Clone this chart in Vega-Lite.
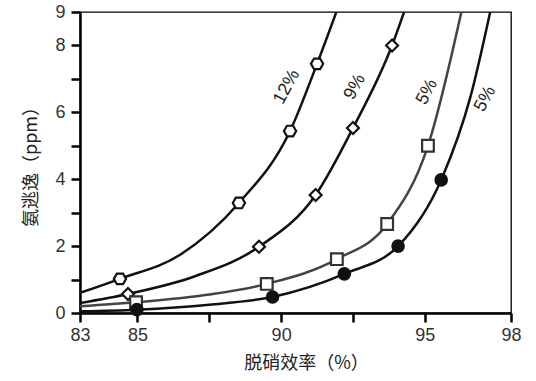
{
  "$schema": "https://vega.github.io/schema/vega-lite/v6.json",
  "width": 431,
  "height": 301,
  "autosize": "none",
  "padding": {"left": 80, "top": 12, "right": 25, "bottom": 68},
  "background": "white",
  "config": {
    "view": {"stroke": "black", "strokeWidth": 1.3},
    "font": "Liberation Sans"
  },
  "datasets": {
    "curves": [
      {"s": "a", "x": 83, "y": 0.6},
      {"s": "a", "x": 84.39, "y": 1.02},
      {"s": "a", "x": 86.5, "y": 1.75},
      {"s": "a", "x": 88.53, "y": 3.29},
      {"s": "a", "x": 90.31, "y": 5.44},
      {"s": "a", "x": 91.25, "y": 7.45},
      {"s": "a", "x": 92.05, "y": 9.3},
      {"s": "b", "x": 83, "y": 0.3},
      {"s": "b", "x": 84.67, "y": 0.57},
      {"s": "b", "x": 87.0, "y": 1.1},
      {"s": "b", "x": 89.23, "y": 1.98},
      {"s": "b", "x": 91.2, "y": 3.53},
      {"s": "b", "x": 92.5, "y": 5.53},
      {"s": "b", "x": 93.86, "y": 8.0},
      {"s": "b", "x": 94.4, "y": 9.3},
      {"s": "c", "x": 83, "y": 0.2},
      {"s": "c", "x": 84.95, "y": 0.32},
      {"s": "c", "x": 87.5, "y": 0.55},
      {"s": "c", "x": 89.5, "y": 0.87},
      {"s": "c", "x": 91.94, "y": 1.61},
      {"s": "c", "x": 93.69, "y": 2.66},
      {"s": "c", "x": 95.11, "y": 5.0},
      {"s": "c", "x": 96.35, "y": 9.3},
      {"s": "d", "x": 83, "y": 0.05},
      {"s": "d", "x": 84.98, "y": 0.1},
      {"s": "d", "x": 87.5, "y": 0.25},
      {"s": "d", "x": 89.7, "y": 0.48},
      {"s": "d", "x": 92.2, "y": 1.17},
      {"s": "d", "x": 94.07, "y": 2.0},
      {"s": "d", "x": 95.57, "y": 3.98},
      {"s": "d", "x": 96.6, "y": 6.5},
      {"s": "d", "x": 97.35, "y": 9.3}
    ],
    "markers": [
      {"s": "a", "x": 84.39, "y": 1.02},
      {"s": "a", "x": 88.53, "y": 3.29},
      {"s": "a", "x": 90.31, "y": 5.44},
      {"s": "a", "x": 91.25, "y": 7.45},
      {"s": "b", "x": 84.67, "y": 0.57},
      {"s": "b", "x": 89.23, "y": 1.98},
      {"s": "b", "x": 91.2, "y": 3.53},
      {"s": "b", "x": 92.5, "y": 5.53},
      {"s": "b", "x": 93.86, "y": 8.0},
      {"s": "c", "x": 84.95, "y": 0.32},
      {"s": "c", "x": 89.5, "y": 0.87},
      {"s": "c", "x": 91.94, "y": 1.61},
      {"s": "c", "x": 93.69, "y": 2.66},
      {"s": "c", "x": 95.11, "y": 5.0},
      {"s": "d", "x": 84.98, "y": 0.1},
      {"s": "d", "x": 89.7, "y": 0.48},
      {"s": "d", "x": 92.2, "y": 1.17},
      {"s": "d", "x": 94.07, "y": 2.0},
      {"s": "d", "x": 95.57, "y": 3.98}
    ],
    "labels": [
      {"x": 90.2, "y": 6.76, "t": "12%"},
      {"x": 92.57, "y": 6.76, "t": "9%"},
      {"x": 95.08, "y": 6.61, "t": "5%"},
      {"x": 97.1, "y": 6.4, "t": "5%"}
    ]
  },
  "encoding": {
    "x": {
      "field": "x", "type": "quantitative",
      "scale": {"domain": [83, 98], "nice": false, "zero": false},
      "axis": {
        "title": "脱硝效率（%）",
        "titleFont": "Noto Sans CJK SC", "titleFontSize": 18, "titleFontWeight": "normal",
        "titleColor": "#222", "titlePadding": 10, "titleX": 226,
        "values": [83, 85, 87.5, 90, 92.5, 95, 98],
        "labelExpr": "(datum.value == 87.5 || datum.value == 92.5) ? '' : datum.label",
        "labelFontSize": 18, "labelColor": "#333", "labelPadding": 4, "labelFlush": false,
        "grid": false, "domainColor": "black", "domainWidth": 2.5,
        "tickColor": "black", "tickWidth": 2.5, "tickSize": 9
      }
    },
    "y": {
      "field": "y", "type": "quantitative",
      "scale": {"domain": [0, 9], "nice": false},
      "axis": {
        "title": "氨逃逸（ppm）",
        "titleFont": "Noto Sans CJK SC", "titleFontSize": 18, "titleFontWeight": "normal",
        "titleColor": "#222", "titlePadding": 14, "titleY": 150,
        "values": [0, 1, 2, 3, 4, 5, 6, 7, 8, 9],
        "labelExpr": "(datum.value % 2 == 0 || datum.value == 9) ? datum.label : ''",
        "labelFontSize": 18, "labelColor": "#333", "labelPadding": 6, "labelFlush": false,
        "grid": false, "domainColor": "black", "domainWidth": 2.5,
        "tickColor": "black", "tickWidth": 2.5, "tickSize": 9
      }
    }
  },
  "layer": [
    {
      "data": {"name": "curves"},
      "mark": {"type": "line", "interpolate": "monotone", "strokeWidth": 2.5, "clip": true},
      "encoding": {
        "detail": {"field": "s"},
        "color": {"field": "s", "type": "nominal", "legend": null,
          "scale": {"domain": ["a", "b", "c", "d"], "range": ["#111", "#111", "#444", "#111"]}}
      }
    },
    {
      "data": {"name": "markers"},
      "mark": {"type": "point", "strokeWidth": 2.2, "opacity": 1},
      "encoding": {
        "shape": {"field": "s", "type": "nominal", "legend": null,
          "scale": {"domain": ["a", "b", "c", "d"],
            "range": ["M-1,0L-0.5,-0.866L0.5,-0.866L1,0L0.5,0.866L-0.5,0.866Z", "diamond", "square", "circle"]}},
        "size": {"field": "s", "type": "nominal", "legend": null,
          "scale": {"domain": ["a", "b", "c", "d"], "range": [150, 130, 100, 190]}},
        "fill": {"field": "s", "type": "nominal", "legend": null,
          "scale": {"domain": ["a", "b", "c", "d"], "range": ["white", "white", "white", "#111"]}},
        "stroke": {"field": "s", "type": "nominal", "legend": null,
          "scale": {"domain": ["a", "b", "c", "d"], "range": ["#111", "#111", "#333", "#111"]}}
      }
    },
    {
      "data": {"name": "labels"},
      "mark": {"type": "text", "angle": 298, "fontSize": 18, "color": "#222", "font": "Liberation Sans"},
      "encoding": {"text": {"field": "t"}}
    }
  ]
}
